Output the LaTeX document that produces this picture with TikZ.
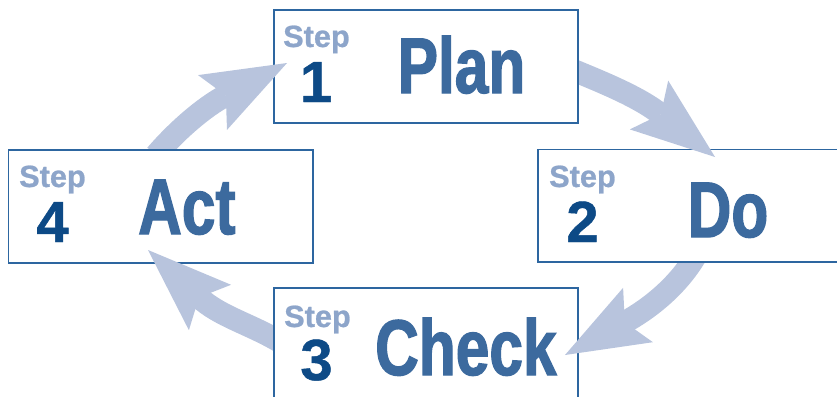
\documentclass[tikz,border=0pt]{standalone}
\usepackage{fontspec}
\setmainfont{Liberation Sans}
\newfontfamily\wordfont{Liberation Sans}[FakeStretch=0.765, BoldFeatures={FakeBold=1.6}]
\newfontfamily\labelfont{Liberation Sans}[BoldFeatures={FakeBold=0.8}]
\usetikzlibrary{calc}
\pgfdeclarelayer{bg}
\pgfsetlayers{bg,main}
\definecolor{bordercol}{HTML}{2D66A0}
\definecolor{steptxt}{HTML}{8DA5CA}
\definecolor{numtxt}{HTML}{0D4A86}
\definecolor{wordtxt}{HTML}{3C6A9E}
\definecolor{arrowcol}{HTML}{B8C4DD}
\tikzset{
  stepbox/.style={draw=bordercol, line width=1.8pt, fill=white, minimum width=304.5pt, minimum height=112.7pt, inner sep=0pt},
  steplabel/.style={anchor=base west, inner sep=0pt, text=steptxt, font=\labelfont\bfseries\fontsize{30.7pt}{31pt}\selectfont},
  stepnum/.style={anchor=base, inner sep=0pt, text=numtxt, font=\labelfont\bfseries\fontsize{58pt}{58pt}\selectfont},
  stepword/.style={anchor=base west, inner sep=0pt, text=wordtxt, font=\wordfont\bfseries\fontsize{79pt}{79pt}\selectfont},
  shaft/.style={draw=arrowcol, line width=22.5pt, line cap=butt},
  arrowhead/.style={fill=arrowcol, draw=none},
}
\begin{document}
\begin{tikzpicture}[x=1pt,y=-1pt]
\path[use as bounding box] (0,0) rectangle (837,396);
\clip (0,0) rectangle (837,396);
% boxes
\node[stepbox] (plan)  at (425.9,66.35) {};
\node[stepbox] (do)    at (690.5,205.9) {};
\node[stepbox] (check) at (425.9,344.65) {};
\node[stepbox] (act)   at (160.8,206.3) {};
% arrow head geometry
\coordinate (h1tip) at (287,63);
\coordinate (h1a) at (198,75.1);
\coordinate (h1in) at (225.8,95.5);
\coordinate (h1b) at (227,129.9);
\coordinate (h2tip) at (715,157);
\coordinate (h2a) at (668.2,80.6);
\coordinate (h2in) at (660.8,114.3);
\coordinate (h2b) at (629.8,129.4);
\coordinate (h3tip) at (565,355);
\coordinate (h3a) at (623.1,287.8);
\coordinate (h3in) at (624.8,322.2);
\coordinate (h3b) at (652.9,342.2);
\coordinate (h4tip) at (148,250);
\coordinate (h4a) at (231.1,284.8);
\coordinate (h4in) at (199,297.3);
\coordinate (h4b) at (188.9,330.2);
% shafts behind the boxes
\begin{pgfonlayer}{bg}
\draw[shaft] ($(act.north)+(-5,6)$) .. controls (176.8,130.7) and (203.7,107.2) .. (h1in);
\draw[shaft] ($(plan.east)+(-7.4,3.2)$) .. controls (604,82.9) and (638.8,97.0) .. (h2in);
\draw[shaft] ($(do.south)+(5,-7)$) .. controls (677.5,286.4) and (649.4,308.7) .. (h3in);
\draw[shaft] ($(check.west)+(7,-3)$) .. controls (249.6,323.8) and (219.5,316.3) .. (h4in);
\end{pgfonlayer}
% heads on top
\fill[arrowhead] (h1tip) -- (h1a) -- (h1in) -- (h1b) -- cycle;
\fill[arrowhead] (h2tip) -- (h2a) -- (h2in) -- (h2b) -- cycle;
\fill[arrowhead] (h3tip) -- (h3a) -- (h3in) -- (h3b) -- cycle;
\fill[arrowhead] (h4tip) -- (h4a) -- (h4in) -- (h4b) -- cycle;
% texts
\node[steplabel] (planstep) at (283,47) {Step};
\node[stepnum]   (plannum)  at (316,102) {1};
\node[stepword]  (planword) at (397.5,93) {Plan};
\node[steplabel] (dostep) at (549,187) {Step};
\node[stepnum]   (donum)  at (582.5,242) {2};
\node[stepword]  (doword) at (687.5,237) {Do};
\node[steplabel] (checkstep) at (284,327) {Step};
\node[stepnum]   (checknum)  at (316.5,380) {3};
\node[stepword]  (checkword) at (375,375) {Check};
\node[steplabel] (actstep) at (19,187) {Step};
\node[stepnum]   (actnum)  at (52.5,242) {4};
\node[stepword]  (actword) at (138,234) {Act};
\end{tikzpicture}
\end{document}
